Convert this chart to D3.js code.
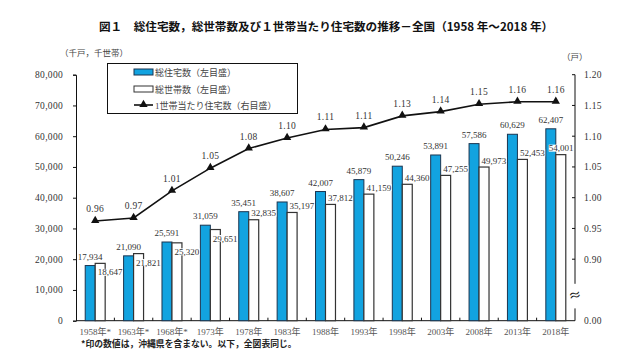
<!DOCTYPE html>
<html>
<head>
<meta charset="utf-8">
<script src="https://cdn.jsdelivr.net/npm/d3@7"></script>
<style>
body { margin: 0; background: #fff; }
svg text { font-family: "Liberation Serif", "Noto Sans CJK JP", serif; }
.num { font-size: 9.5px; fill: #333; }
.lab { font-size: 9px; fill: #333; }
.jp { font-family: "Noto Sans CJK JP", sans-serif !important; }
</style>
</head>
<body>
<svg width="640" height="363"></svg>
<script>
var years = ["1958", "1963", "1968", "1973", "1978", "1983", "1988", "1993", "1998", "2003", "2008", "2013", "2018"];
var yearLabels = ["1958年*", "1963年*", "1968年*", "1973年", "1978年", "1983年", "1988年", "1993年", "1998年", "2003年", "2008年", "2013年", "2018年"];
var housing = [17934, 21090, 25591, 31059, 35451, 38607, 42007, 45879, 50246, 53891, 57586, 60629, 62407];
var households = [18647, 21821, 25320, 29651, 32835, 35197, 37812, 41159, 44360, 47255, 49973, 52453, 54001];
var perHousehold = [0.962, 0.967, 1.011, 1.048, 1.080, 1.097, 1.111, 1.114, 1.133, 1.140, 1.152, 1.156, 1.156];
var leftTicks = [0, 10000, 20000, 30000, 40000, 50000, 60000, 70000, 80000];
var rightTicks = [0.90, 0.95, 1.00, 1.05, 1.10, 1.15, 1.20];
var seriesNames = ["総住宅数（左目盛）", "総世帯数（左目盛）", "1世帯当たり住宅数（右目盛）"];

var svg = d3.select("svg");
var plotLeft = 76, plotRight = 575, plotTop = 74.7, plotBottom = 320.7;

var xScale = d3.scaleBand().domain(years).range([plotLeft, plotRight]);
var yLeft = d3.scaleLinear().domain([0, 80000]).range([plotBottom, plotTop]);
// right axis is broken: bottom shows 0.00, ticks run 0.90 - 1.20
var yRight = d3.scaleLinear().domain([0.80, 1.20]).range([plotBottom, plotTop]);
var fmt = d3.format(",");
var barW = xScale.bandwidth() * 0.26;
var blue = "#12a3e0";

// title
svg.append("text")
  .attr("class", "jp")
  .attr("x", 326)
  .attr("y", 31)
  .attr("text-anchor", "middle")
  .style("font-size", "11.6px")
  .style("font-weight", "bold")
  .style("fill", "#111")
  .text("図１　総住宅数，総世帯数及び１世帯当たり住宅数の推移－全国（1958 年～2018 年）");

svg.append("text")
  .attr("class", "jp")
  .attr("x", 60)
  .attr("y", 56)
  .style("font-size", "8.5px")
  .style("fill", "#444")
  .text("（千戸，千世帯）");

svg.append("text")
  .attr("class", "jp")
  .attr("x", 562)
  .attr("y", 60)
  .style("font-size", "8.5px")
  .style("fill", "#444")
  .text("（戸）");

// left axis
var gl = svg.append("g").attr("transform", "translate(" + plotLeft + ",0)")
  .call(d3.axisLeft(yLeft).tickValues(leftTicks).tickSize(3).tickPadding(10).tickFormat(fmt));
gl.select(".domain").attr("stroke", "#111");
gl.selectAll(".tick line").attr("stroke", "#111");
gl.selectAll("text").attr("class", "num").attr("font-family", null).attr("font-size", null)
  .style("font-size", "9.5px").style("fill", "#333").style("letter-spacing", "0.3px");

// right axis with break
var gr = svg.append("g").attr("transform", "translate(" + plotRight + ",0)");
gr.append("line").attr("x1", 0).attr("x2", 0).attr("y1", plotTop).attr("y2", yRight(0.86)).attr("stroke", "#111");
gr.append("line").attr("x1", 0).attr("x2", 0).attr("y1", yRight(0.82)).attr("y2", plotBottom).attr("stroke", "#111");
gr.append("text").attr("x", 0).attr("y", yRight(0.84) + 4).attr("text-anchor", "middle")
  .attr("class", "jp")
  .style("font-size", "13px").style("fill", "#111")
  .attr("transform", "rotate(-12,0," + yRight(0.84) + ")")
  .text("≈");
gr.selectAll(".rt").data(rightTicks).enter().append("line")
  .attr("x1", -3).attr("x2", 0)
  .attr("y1", function(d) { return yRight(d); })
  .attr("y2", function(d) { return yRight(d); })
  .attr("stroke", "#111");
gr.selectAll(".rl").data(rightTicks).enter().append("text")
  .attr("class", "num")
  .attr("x", 9)
  .attr("y", function(d) { return yRight(d) + 3.5; })
  .style("letter-spacing", "0.3px")
  .text(function(d) { return d.toFixed(2); });
gr.append("text").attr("class", "num").attr("x", 9).attr("y", plotBottom + 3.5)
  .style("letter-spacing", "0.3px").text("0.00");

// bottom axis
svg.append("line").attr("x1", plotLeft).attr("x2", plotRight).attr("y1", plotBottom).attr("y2", plotBottom).attr("stroke", "#111");
svg.selectAll(".bt").data(years.slice(1)).enter().append("line")
  .attr("x1", function(d) { return xScale(d); })
  .attr("x2", function(d) { return xScale(d); })
  .attr("y1", plotBottom).attr("y2", plotBottom - 3)
  .attr("stroke", "#111");
svg.selectAll(".xl").data(years).enter().append("text")
  .attr("class", "num")
  .attr("x", function(d) { return xScale(d) + xScale.bandwidth() / 2; })
  .attr("y", plotBottom + 14)
  .attr("text-anchor", "middle")
  .style("font-size", "9px")
  .style("fill", "#555")
  .text(function(d, i) { return yearLabels[i]; });

svg.append("text")
  .attr("class", "jp")
  .attr("x", 81)
  .attr("y", 347)
  .style("font-size", "8.8px")
  .style("font-weight", "bold")
  .style("fill", "#222")
  .text("*印の数値は，沖縄県を含まない。以下，全図表同じ。");

// bars
var cx = function(i) { return xScale(years[i]) + xScale.bandwidth() / 2; };

svg.selectAll(".hb").data(housing).enter().append("rect")
  .attr("x", function(d, i) { return cx(i) - barW; })
  .attr("y", function(d) { return yLeft(d); })
  .attr("width", barW)
  .attr("height", function(d) { return plotBottom - yLeft(d); })
  .style("fill", blue)
  .style("stroke", "#1b3550")
  .style("stroke-width", 1);

svg.selectAll(".wb").data(households).enter().append("rect")
  .attr("x", function(d, i) { return cx(i); })
  .attr("y", function(d) { return yLeft(d); })
  .attr("width", barW)
  .attr("height", function(d) { return plotBottom - yLeft(d); })
  .style("fill", "#fff")
  .style("stroke", "#333")
  .style("stroke-width", 1.2);

// labels with white background
function label(x, y, txt, anchor) {
  var t = svg.append("text").attr("class", "lab")
    .attr("x", x).attr("y", y)
    .attr("text-anchor", anchor)
    .text(txt);
  var b = t.node().getBBox();
  svg.insert("rect", function() { return t.node(); })
    .attr("x", b.x).attr("y", b.y + 1.5).attr("width", b.width).attr("height", b.height - 3)
    .style("fill", "#fff");
}

housing.forEach(function(d, i) {
  label(cx(i) - barW / 2, yLeft(d) - 6, fmt(d), "middle");
});
households.forEach(function(d, i) {
  var below = housing[i] - d < 2000;
  var y = below ? yLeft(d) + 12 : yLeft(d) - 3.5;
  var x = cx(i) + 2.5;
  if (x + 25 > plotRight - 2) label(plotRight - 1.5, y, fmt(d), "end");
  else label(x, y, fmt(d), "start");
});

// ratio line
var line = d3.line()
  .x(function(d, i) { return cx(i); })
  .y(function(d) { return yRight(d); });
svg.append("path").datum(perHousehold)
  .attr("d", line)
  .style("fill", "none")
  .style("stroke", "#111")
  .style("stroke-width", 1.6);
var tri = d3.symbol().type(d3.symbolTriangle).size(30);
svg.selectAll(".mk").data(perHousehold).enter().append("path")
  .attr("d", tri)
  .attr("transform", function(d, i) { return "translate(" + cx(i) + "," + (yRight(d) - 0.5) + ")"; })
  .style("fill", "#111");
svg.selectAll(".rv").data(perHousehold).enter().append("text")
  .attr("class", "num")
  .attr("x", function(d, i) { return cx(i); })
  .attr("y", function(d) { return yRight(d) - 9; })
  .attr("text-anchor", "middle")
  .style("letter-spacing", "0.3px")
  .text(function(d) { return d3.format(".2f")(d); });

// legend
var lg = svg.append("g");
lg.append("rect").attr("x", 107.5).attr("y", 63.5).attr("width", 190).attr("height", 50)
  .style("fill", "#fff").style("stroke", "#111");
var rows = [72, 89, 105];
lg.append("rect").attr("x", 134).attr("y", rows[0] - 3).attr("width", 19).attr("height", 6)
  .style("fill", blue).style("stroke", "#1b3550");
lg.append("rect").attr("x", 134).attr("y", rows[1] - 3).attr("width", 19).attr("height", 6)
  .style("fill", "#fff").style("stroke", "#333");
lg.append("line").attr("x1", 134).attr("x2", 153).attr("y1", rows[2]).attr("y2", rows[2])
  .style("stroke", "#111").style("stroke-width", 1.6);
lg.append("path").attr("d", tri).attr("transform", "translate(143.5," + (rows[2] - 0.5) + ")").style("fill", "#111");
lg.selectAll(".lt").data(seriesNames).enter().append("text")
  .attr("x", 155)
  .attr("y", function(d, i) { return rows[i] + 3.5; })
  .style("font-size", "9px")
  .style("fill", "#444")
  .text(function(d) { return d; });
</script>
</body>
</html>
